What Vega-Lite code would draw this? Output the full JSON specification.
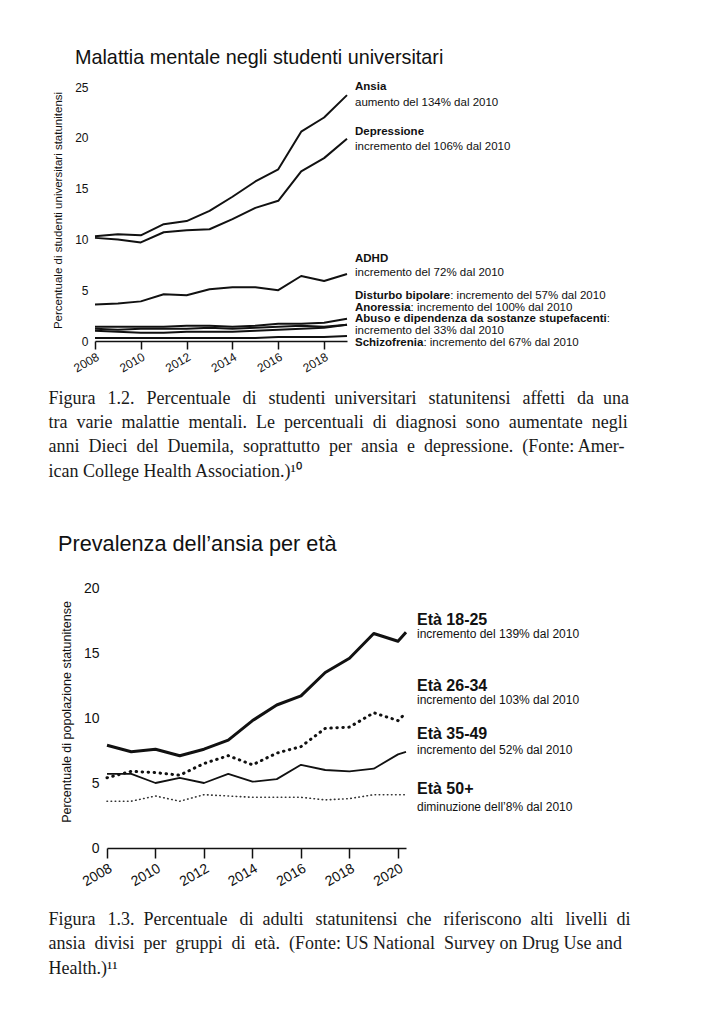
{
  "$schema": "https://vega.github.io/schema/vega-lite/v6.json",
  "background": "white",
  "padding": {"left": 48, "top": 47, "right": 10, "bottom": 10},
  "usermeta": {"embedOptions": {"actions": false}},
  "config": {"view": {"stroke": null}, "font": "Liberation Sans"},
  "spacing": 243,
  "bounds": "flush",
  "vconcat": [
    {
      "width": 252,
      "height": 258,
      "title": {"text": "Malattia mentale negli studenti universitari", "anchor": "start", "frame": "group", "dx": -20, "fontSize": 19.8, "fontWeight": "normal", "font": "Liberation Sans", "color": "#111", "baseline": "alphabetic", "offset": -3},
      "layer": [
        {
          "data": {"values": [
            {"s": "Ansia", "year": 2008, "value": 10.3}, {"s": "Ansia", "year": 2009, "value": 10.5}, {"s": "Ansia", "year": 2010, "value": 10.4}, {"s": "Ansia", "year": 2011, "value": 11.5}, {"s": "Ansia", "year": 2012, "value": 11.8}, {"s": "Ansia", "year": 2013, "value": 12.8}, {"s": "Ansia", "year": 2014, "value": 14.2}, {"s": "Ansia", "year": 2015, "value": 15.7}, {"s": "Ansia", "year": 2016, "value": 16.9}, {"s": "Ansia", "year": 2017, "value": 20.6}, {"s": "Ansia", "year": 2018, "value": 22.0}, {"s": "Ansia", "year": 2019, "value": 24.2},
            {"s": "Depressione", "year": 2008, "value": 10.15}, {"s": "Depressione", "year": 2009, "value": 10.0}, {"s": "Depressione", "year": 2010, "value": 9.7}, {"s": "Depressione", "year": 2011, "value": 10.7}, {"s": "Depressione", "year": 2012, "value": 10.9}, {"s": "Depressione", "year": 2013, "value": 11.0}, {"s": "Depressione", "year": 2014, "value": 12.0}, {"s": "Depressione", "year": 2015, "value": 13.1}, {"s": "Depressione", "year": 2016, "value": 13.8}, {"s": "Depressione", "year": 2017, "value": 16.7}, {"s": "Depressione", "year": 2018, "value": 18.0}, {"s": "Depressione", "year": 2019, "value": 19.9},
            {"s": "ADHD", "year": 2008, "value": 3.6}, {"s": "ADHD", "year": 2009, "value": 3.7}, {"s": "ADHD", "year": 2010, "value": 3.9}, {"s": "ADHD", "year": 2011, "value": 4.6}, {"s": "ADHD", "year": 2012, "value": 4.5}, {"s": "ADHD", "year": 2013, "value": 5.1}, {"s": "ADHD", "year": 2014, "value": 5.3}, {"s": "ADHD", "year": 2015, "value": 5.3}, {"s": "ADHD", "year": 2016, "value": 5.0}, {"s": "ADHD", "year": 2017, "value": 6.4}, {"s": "ADHD", "year": 2018, "value": 5.9}, {"s": "ADHD", "year": 2019, "value": 6.6},
            {"s": "Disturbo bipolare", "year": 2008, "value": 1.4}, {"s": "Disturbo bipolare", "year": 2009, "value": 1.4}, {"s": "Disturbo bipolare", "year": 2010, "value": 1.4}, {"s": "Disturbo bipolare", "year": 2011, "value": 1.4}, {"s": "Disturbo bipolare", "year": 2012, "value": 1.5}, {"s": "Disturbo bipolare", "year": 2013, "value": 1.5}, {"s": "Disturbo bipolare", "year": 2014, "value": 1.4}, {"s": "Disturbo bipolare", "year": 2015, "value": 1.5}, {"s": "Disturbo bipolare", "year": 2016, "value": 1.7}, {"s": "Disturbo bipolare", "year": 2017, "value": 1.7}, {"s": "Disturbo bipolare", "year": 2018, "value": 1.8}, {"s": "Disturbo bipolare", "year": 2019, "value": 2.2},
            {"s": "Anoressia", "year": 2008, "value": 1.0}, {"s": "Anoressia", "year": 2009, "value": 0.9}, {"s": "Anoressia", "year": 2010, "value": 0.8}, {"s": "Anoressia", "year": 2011, "value": 0.8}, {"s": "Anoressia", "year": 2012, "value": 0.9}, {"s": "Anoressia", "year": 2013, "value": 0.9}, {"s": "Anoressia", "year": 2014, "value": 0.9}, {"s": "Anoressia", "year": 2015, "value": 1.0}, {"s": "Anoressia", "year": 2016, "value": 1.1}, {"s": "Anoressia", "year": 2017, "value": 1.2}, {"s": "Anoressia", "year": 2018, "value": 1.3}, {"s": "Anoressia", "year": 2019, "value": 1.6},
            {"s": "Abuso", "year": 2008, "value": 1.2}, {"s": "Abuso", "year": 2009, "value": 1.1}, {"s": "Abuso", "year": 2010, "value": 1.2}, {"s": "Abuso", "year": 2011, "value": 1.2}, {"s": "Abuso", "year": 2012, "value": 1.2}, {"s": "Abuso", "year": 2013, "value": 1.3}, {"s": "Abuso", "year": 2014, "value": 1.2}, {"s": "Abuso", "year": 2015, "value": 1.3}, {"s": "Abuso", "year": 2016, "value": 1.4}, {"s": "Abuso", "year": 2017, "value": 1.5}, {"s": "Abuso", "year": 2018, "value": 1.4}, {"s": "Abuso", "year": 2019, "value": 1.6},
            {"s": "Schizofrenia", "year": 2008, "value": 0.3}, {"s": "Schizofrenia", "year": 2009, "value": 0.3}, {"s": "Schizofrenia", "year": 2010, "value": 0.3}, {"s": "Schizofrenia", "year": 2011, "value": 0.3}, {"s": "Schizofrenia", "year": 2012, "value": 0.3}, {"s": "Schizofrenia", "year": 2013, "value": 0.3}, {"s": "Schizofrenia", "year": 2014, "value": 0.3}, {"s": "Schizofrenia", "year": 2015, "value": 0.3}, {"s": "Schizofrenia", "year": 2016, "value": 0.4}, {"s": "Schizofrenia", "year": 2017, "value": 0.4}, {"s": "Schizofrenia", "year": 2018, "value": 0.4}, {"s": "Schizofrenia", "year": 2019, "value": 0.5}
          ]},
          "mark": {"type": "line", "color": "#111", "strokeWidth": 2, "strokeJoin": "round"},
          "encoding": {
            "x": {"field": "year", "type": "quantitative", "scale": {"domain": [2008, 2019], "nice": false, "zero": false},
              "axis": {"values": [2008, 2010, 2012, 2014, 2016, 2018], "format": "d", "labelAngle": -30, "labelAlign": "right", "labelBaseline": "top", "labelFlush": false, "labelFontSize": 12, "labelColor": "#111", "labelPadding": 2, "tickSize": 8, "offset": -4, "domainColor": "#111", "tickColor": "#111", "domainWidth": 1.5, "tickWidth": 1.5, "grid": false,
                "title": ["Figura\u2004\u20041.2.\u2004\u2004Percentuale\u2004\u2004di\u2004\u2004studenti\u2002universitari\u2004\u2004statunitensi\u2004\u2004affetti\u2004\u2004da\u2002una", "tra\u2002varie\u2002malattie\u2002mentali.\u2002Le\u2002percentuali\u2002di\u2002diagnosi\u2002sono\u2002aumentate\u2002negli", "anni\u2002Dieci\u2002del\u2002Duemila,\u2002soprattutto\u2002per\u2002ansia\u2002e\u2002depressione.\u2002(Fonte: Amer-", "ican College Health Association.)¹⁰"],
                "titleFont": "Liberation Serif", "titleFontSize": 18, "titleFontWeight": "normal", "titleColor": "#1a1a1a", "titleAlign": "left", "titleAngle": 0, "titleBaseline": "alphabetic", "titleX": -47, "titleY": 62, "titleLineHeight": 24.4, "titleLimit": 1000}},
            "y": {"field": "value", "type": "quantitative", "scale": {"domain": [0, 25], "range": [254, 0], "nice": false},
              "axis": {"values": [0, 5, 10, 15, 20, 25], "domain": false, "ticks": false, "tickSize": 0, "labelFontSize": 12, "labelColor": "#111", "labelPadding": 7, "grid": false,
                "title": "Percentuale di studenti universitari statunitensi", "titleFontSize": 11.5, "titleFontWeight": "normal", "titleColor": "#111", "titleX": -32, "titleY": 123, "titleAngle": -90, "titleBaseline": "bottom", "titleAlign": "center"}},
            "detail": {"field": "s"}
          }
        },
        {
          "data": {"values": [
            {"t": "Ansia", "ly": 25.03}, {"t": "Depressione", "ly": 20.6}, {"t": "ADHD", "ly": 8.07}, {"t": "Disturbo bipolare", "ly": 4.43}, {"t": "Anoressia", "ly": 3.29}, {"t": "Abuso e dipendenza da sostanze stupefacenti", "ly": 2.14}, {"t": "Schizofrenia", "ly": -0.22}
          ]},
          "mark": {"type": "text", "align": "left", "baseline": "middle", "dx": 8, "fontSize": 11.5, "fontWeight": "bold", "color": "#111"},
          "encoding": {"x": {"datum": 2019, "type": "quantitative"}, "y": {"field": "ly", "type": "quantitative"}, "text": {"field": "t"}}
        },
        {
          "data": {"values": [
            {"t": "aumento del 134% dal 2010", "ly": 23.4}, {"t": "incremento del 106% dal 2010", "ly": 19.06}, {"t": "incremento del 72% dal 2010", "ly": 6.66}, {"t": "incremento del 33% dal 2010", "ly": 0.96}
          ]},
          "mark": {"type": "text", "align": "left", "baseline": "middle", "dx": 8, "fontSize": 11.5, "color": "#111"},
          "encoding": {"x": {"datum": 2019, "type": "quantitative"}, "y": {"field": "ly", "type": "quantitative"}, "text": {"field": "t"}}
        },
        {
          "data": {"values": [{"t": ": incremento del 57% dal 2010", "ly": 4.43}]},
          "mark": {"type": "text", "align": "left", "baseline": "middle", "dx": 103.2, "fontSize": 11.5, "color": "#111"},
          "encoding": {"x": {"datum": 2019, "type": "quantitative"}, "y": {"field": "ly", "type": "quantitative"}, "text": {"field": "t"}}
        },
        {
          "data": {"values": [{"t": ": incremento del 100% dal 2010", "ly": 3.29}]},
          "mark": {"type": "text", "align": "left", "baseline": "middle", "dx": 63.6, "fontSize": 11.5, "color": "#111"},
          "encoding": {"x": {"datum": 2019, "type": "quantitative"}, "y": {"field": "ly", "type": "quantitative"}, "text": {"field": "t"}}
        },
        {
          "data": {"values": [{"t": ":", "ly": 2.14}]},
          "mark": {"type": "text", "align": "left", "baseline": "middle", "dx": 259.8, "fontSize": 11.5, "color": "#111"},
          "encoding": {"x": {"datum": 2019, "type": "quantitative"}, "y": {"field": "ly", "type": "quantitative"}, "text": {"field": "t"}}
        },
        {
          "data": {"values": [{"t": ": incremento del 67% dal 2010", "ly": -0.22}]},
          "mark": {"type": "text", "align": "left", "baseline": "middle", "dx": 76.4, "fontSize": 11.5, "color": "#111"},
          "encoding": {"x": {"datum": 2019, "type": "quantitative"}, "y": {"field": "ly", "type": "quantitative"}, "text": {"field": "t"}}
        }
      ]
    },
    {
      "width": 311,
      "height": 265,
      "title": {"text": "Prevalenza dell’ansia per età", "anchor": "start", "frame": "group", "dx": -37, "fontSize": 21.7, "fontWeight": "normal", "font": "Liberation Sans", "color": "#111", "baseline": "alphabetic", "offset": 8},
      "layer": [
        {
          "data": {"values": [
            {"g": "18-25", "year": 2008, "value": 7.9}, {"g": "18-25", "year": 2009, "value": 7.4}, {"g": "18-25", "year": 2010, "value": 7.6}, {"g": "18-25", "year": 2011, "value": 7.1}, {"g": "18-25", "year": 2012, "value": 7.6}, {"g": "18-25", "year": 2013, "value": 8.3}, {"g": "18-25", "year": 2014, "value": 9.8}, {"g": "18-25", "year": 2015, "value": 11.0}, {"g": "18-25", "year": 2016, "value": 11.7}, {"g": "18-25", "year": 2017, "value": 13.5}, {"g": "18-25", "year": 2018, "value": 14.6}, {"g": "18-25", "year": 2019, "value": 16.5}, {"g": "18-25", "year": 2020, "value": 15.9}, {"g": "18-25", "year": 2020.33, "value": 16.6},
            {"g": "26-34", "year": 2008, "value": 5.4}, {"g": "26-34", "year": 2009, "value": 5.9}, {"g": "26-34", "year": 2010, "value": 5.8}, {"g": "26-34", "year": 2011, "value": 5.6}, {"g": "26-34", "year": 2012, "value": 6.5}, {"g": "26-34", "year": 2013, "value": 7.1}, {"g": "26-34", "year": 2014, "value": 6.4}, {"g": "26-34", "year": 2015, "value": 7.3}, {"g": "26-34", "year": 2016, "value": 7.8}, {"g": "26-34", "year": 2017, "value": 9.2}, {"g": "26-34", "year": 2018, "value": 9.3}, {"g": "26-34", "year": 2019, "value": 10.4}, {"g": "26-34", "year": 2020, "value": 9.8}, {"g": "26-34", "year": 2020.33, "value": 10.4},
            {"g": "35-49", "year": 2008, "value": 5.7}, {"g": "35-49", "year": 2009, "value": 5.7}, {"g": "35-49", "year": 2010, "value": 5.0}, {"g": "35-49", "year": 2011, "value": 5.4}, {"g": "35-49", "year": 2012, "value": 5.0}, {"g": "35-49", "year": 2013, "value": 5.7}, {"g": "35-49", "year": 2014, "value": 5.1}, {"g": "35-49", "year": 2015, "value": 5.3}, {"g": "35-49", "year": 2016, "value": 6.4}, {"g": "35-49", "year": 2017, "value": 6.0}, {"g": "35-49", "year": 2018, "value": 5.9}, {"g": "35-49", "year": 2019, "value": 6.1}, {"g": "35-49", "year": 2020, "value": 7.2}, {"g": "35-49", "year": 2020.33, "value": 7.4},
            {"g": "50+", "year": 2008, "value": 3.6}, {"g": "50+", "year": 2009, "value": 3.6}, {"g": "50+", "year": 2010, "value": 4.0}, {"g": "50+", "year": 2011, "value": 3.6}, {"g": "50+", "year": 2012, "value": 4.1}, {"g": "50+", "year": 2013, "value": 4.0}, {"g": "50+", "year": 2014, "value": 3.9}, {"g": "50+", "year": 2015, "value": 3.9}, {"g": "50+", "year": 2016, "value": 3.9}, {"g": "50+", "year": 2017, "value": 3.7}, {"g": "50+", "year": 2018, "value": 3.8}, {"g": "50+", "year": 2019, "value": 4.1}, {"g": "50+", "year": 2020, "value": 4.1}, {"g": "50+", "year": 2020.33, "value": 4.1}
          ]},
          "encoding": {
            "x": {"field": "year", "type": "quantitative", "scale": {"domain": [2008, 2020.33], "range": [12, 311], "nice": false, "zero": false},
              "axis": {"values": [2008, 2010, 2012, 2014, 2016, 2018, 2020], "format": "d", "labelAngle": -30, "labelAlign": "right", "labelBaseline": "top", "labelFlush": false, "labelFontSize": 14, "labelColor": "#111", "labelPadding": 3, "tickSize": 10, "offset": -5, "domainColor": "#111", "tickColor": "#111", "domainWidth": 1.5, "tickWidth": 1.5, "grid": false,
                "title": ["Figura\u2004\u20041.3.\u2002Percentuale\u2004\u2004di\u2002adulti\u2004\u2004statunitensi\u2002che\u2004\u2004riferiscono\u2002alti\u2004\u2004livelli\u2002di", "ansia\u2002divisi\u2002per\u2002gruppi\u2002di\u2002età.\u2002(Fonte: US National\u2002Survey on Drug Use and", "Health.)¹¹"],
                "titleFont": "Liberation Serif", "titleFontSize": 18, "titleFontWeight": "normal", "titleColor": "#1a1a1a", "titleAlign": "left", "titleAngle": 0, "titleBaseline": "alphabetic", "titleX": -47, "titleY": 76, "titleLineHeight": 24.6, "titleLimit": 1000}},
            "y": {"field": "value", "type": "quantitative", "scale": {"domain": [0, 20], "range": [260, 0], "nice": false},
              "axis": {"values": [0, 5, 10, 15, 20], "domain": false, "ticks": false, "tickSize": 0, "offset": -12, "labelFontSize": 14, "labelColor": "#111", "labelPadding": 8, "grid": false,
                "title": "Percentuale di popolazione statunitense", "titleFontSize": 12.5, "titleFontWeight": "normal", "titleColor": "#111", "titleX": -34, "titleY": 123.5, "titleAngle": -90, "titleBaseline": "bottom", "titleAlign": "center"}}
          },
          "layer": [
            {"transform": [{"filter": "datum.g === '18-25'"}], "mark": {"type": "line", "color": "#111", "strokeWidth": 3, "strokeJoin": "round"}},
            {"transform": [{"filter": "datum.g === '26-34'"}], "mark": {"type": "line", "color": "#111", "strokeWidth": 3, "strokeDash": [0.5, 5.5], "strokeCap": "round"}},
            {"transform": [{"filter": "datum.g === '35-49'"}], "mark": {"type": "line", "color": "#111", "strokeWidth": 1.8, "strokeJoin": "round"}},
            {"transform": [{"filter": "datum.g === '50+'"}], "mark": {"type": "line", "color": "#333", "strokeWidth": 1.6, "strokeDash": [0.5, 3.6], "strokeCap": "round"}}
          ]
        },
        {
          "data": {"values": [
            {"t": "Età 18-25", "ly": 17.54}, {"t": "Età 26-34", "ly": 12.46}, {"t": "Età 35-49", "ly": 8.77}, {"t": "Età 50+", "ly": 4.52}
          ]},
          "mark": {"type": "text", "align": "left", "baseline": "middle", "dx": 11, "fontSize": 16, "fontWeight": "bold", "color": "#111"},
          "encoding": {"x": {"datum": 2020.33, "type": "quantitative"}, "y": {"field": "ly", "type": "quantitative"}, "text": {"field": "t"}}
        },
        {
          "data": {"values": [
            {"t": "incremento del 139% dal 2010", "ly": 16.44}, {"t": "incremento del 103% dal 2010", "ly": 11.38}, {"t": "incremento del 52% dal 2010", "ly": 7.54}, {"t": "diminuzione dell’8% dal 2010", "ly": 3.18}
          ]},
          "mark": {"type": "text", "align": "left", "baseline": "middle", "dx": 11, "fontSize": 12, "color": "#111"},
          "encoding": {"x": {"datum": 2020.33, "type": "quantitative"}, "y": {"field": "ly", "type": "quantitative"}, "text": {"field": "t"}}
        }
      ]
    }
  ]
}
